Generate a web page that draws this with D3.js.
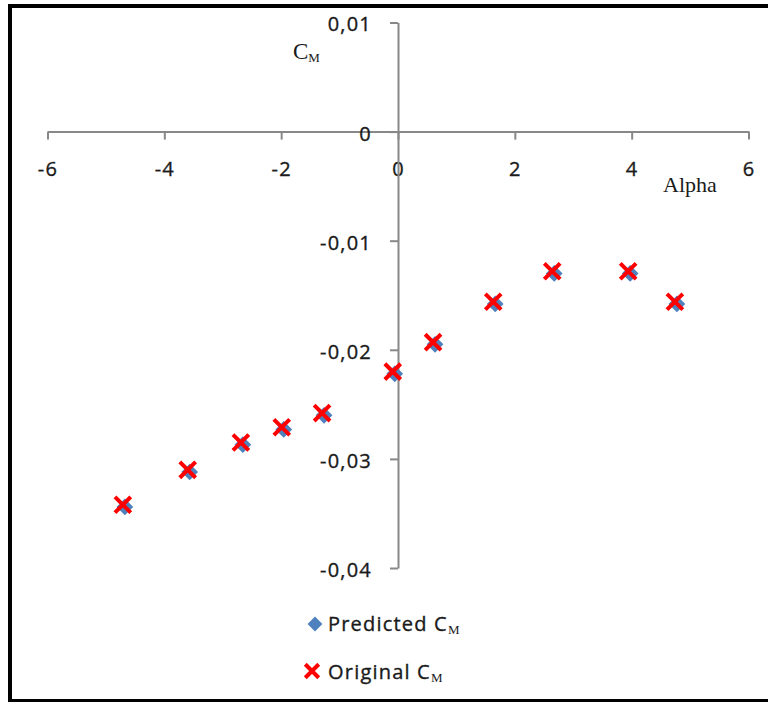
<!DOCTYPE html>
<html>
<head>
<meta charset="utf-8">
<script src="https://cdn.jsdelivr.net/npm/d3@7"></script>
<style>
    body { margin: 0; background: #fff; }
    .tick text { font-family: "Open Sans", sans-serif; font-size: 20px; letter-spacing: 1.2px; fill: #1a1a1a; stroke: #1a1a1a; stroke-width: 0.35px; }
    .axis path, .axis line { stroke: #888; stroke-width: 2px; }
</style>
</head>
<body>
<div id="chart"></div>
<script>

// data
let alpha = [-4.71, -3.60, -2.69, -1.99, -1.30, -0.09, 0.60, 1.63, 2.64, 3.94, 4.74];
let cmOriginal = [-0.0342, -0.0310, -0.0285, -0.0271, -0.0258, -0.0220, -0.0193, -0.0156, -0.0128, -0.0128, -0.0156];
let cmPredicted = [-0.0344, -0.0312, -0.0287, -0.0273, -0.0260, -0.0222, -0.0195, -0.0158, -0.0130, -0.0130, -0.0158];

let xTicks = [-6, -4, -2, 0, 2, 4, 6];
let yTicks = [0.01, 0, -0.01, -0.02, -0.03, -0.04];
let legendLabels = ["Predicted C", "Original C"];

let width = 768, height = 702;

let svg = d3.select("#chart").append("svg")
    .attr("width", width)
    .attr("height", height);

// outer frame
svg.append("rect")
    .attr("x", 10)
    .attr("y", 6)
    .attr("width", 800)
    .attr("height", 695)
    .attr("fill", "none")
    .attr("stroke", "#000")
    .attr("stroke-width", 4);

let x = d3.scaleLinear().domain([-6, 6]).range([47.5, 748.5]);
let y = d3.scaleLinear().domain([-0.04, 0.01]).range([568, 22.5]);

// comma decimals, plain hyphen minus
let locale = d3.formatLocale({decimal: ",", thousands: " ", grouping: [3], currency: ["", ""], minus: "-"});
let fmt = locale.format(".2f");
let yFormat = d => d === 0 ? "0" : fmt(d);

// x axis through y = 0
let xAxis = d3.axisBottom(x)
    .tickValues(xTicks)
    .tickSize(8)
    .tickSizeOuter(0)
    .tickPadding(22)
    .tickFormat(locale.format("d"));

svg.append("g")
    .attr("class", "axis")
    .attr("transform", "translate(0," + y(0) + ")")
    .call(xAxis);

// y axis through x = 0
let yAxis = d3.axisLeft(y)
    .tickValues(yTicks)
    .tickSize(8)
    .tickSizeOuter(0)
    .tickPadding(18)
    .tickFormat(yFormat);

let yG = svg.append("g")
    .attr("class", "axis")
    .attr("transform", "translate(" + x(0) + ",0)")
    .call(yAxis);
yG.selectAll(".tick text").attr("dy", "0.42em");

// axis titles
let cmTitle = svg.append("text")
    .attr("x", 293)
    .attr("y", 59)
    .attr("font-family", "'Liberation Serif', serif")
    .attr("font-size", 23)
    .attr("fill", "#1a1a1a");
cmTitle.append("tspan").text("C");
cmTitle.append("tspan").attr("font-size", 13).attr("dy", 3).text("M");

svg.append("text")
    .attr("x", 663)
    .attr("y", 192)
    .attr("font-family", "'Liberation Serif', serif")
    .attr("font-size", 22)
    .attr("fill", "#1a1a1a")
    .text("Alpha");

// markers
let diamond = d3.symbol(d3.symbolSquare, 140);
let cross = d3.symbol(d3.symbolTimes, 165);

svg.append("g").selectAll("path")
    .data(alpha)
    .enter()
    .append("path")
    .attr("d", diamond)
    .attr("transform", (d, i) => "translate(" + (x(d) + 2) + "," + y(cmPredicted[i]) + ") rotate(45)")
    .attr("fill", "#4f81bd");

svg.append("g").selectAll("path")
    .data(alpha)
    .enter()
    .append("path")
    .attr("d", cross)
    .attr("transform", (d, i) => "translate(" + x(d) + "," + y(cmOriginal[i]) + ")")
    .attr("fill", "none")
    .attr("stroke", "#ff0000")
    .attr("stroke-width", 4);

// legend
let legend = svg.append("g").attr("class", "legend");

legend.append("path")
    .attr("d", d3.symbol(d3.symbolSquare, 110))
    .attr("transform", "translate(315,624) rotate(45)")
    .attr("fill", "#4f81bd");

legend.append("path")
    .attr("d", d3.symbol(d3.symbolTimes, 120))
    .attr("transform", "translate(312,671)")
    .attr("fill", "none")
    .attr("stroke", "#ff0000")
    .attr("stroke-width", 4);

legendLabels.forEach((label, i) => {
    let t = legend.append("text")
        .attr("x", 328)
        .attr("y", 631 + i * 48)
        .attr("font-family", "'Open Sans', sans-serif")
        .attr("font-size", 20)
        .attr("letter-spacing", "1.2px")
        .attr("fill", "#1a1a1a")
        .attr("stroke", "#1a1a1a")
        .attr("stroke-width", 0.35);
    t.append("tspan").text(label);
    t.append("tspan")
        .attr("font-family", "'Liberation Serif', serif")
        .attr("font-size", 13)
        .attr("letter-spacing", "0px")
        .attr("stroke-width", 0)
        .attr("dy", 3)
        .text("M");
});

</script>
</body>
</html>
